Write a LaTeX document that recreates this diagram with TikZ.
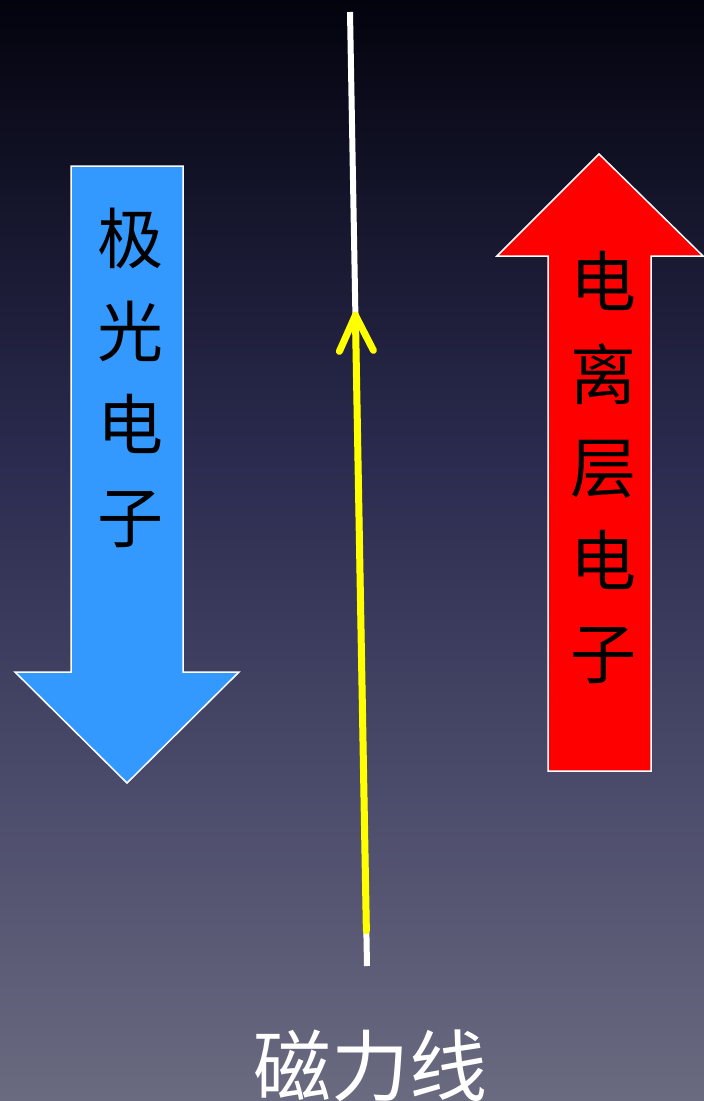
\documentclass[tikz,border=0pt]{standalone}
\usepackage{fontspec}
\newfontfamily\cjk{Noto Sans CJK SC}
\usetikzlibrary{calc}
\definecolor{bgtop}{HTML}{03030E}
\definecolor{bgmid}{HTML}{2A2A4E}
\definecolor{bglow}{HTML}{4C4C6C}
\definecolor{bgbot}{HTML}{6A6A80}
\definecolor{bluearrow}{HTML}{3399FF}
\definecolor{redarrow}{HTML}{FF0000}
\definecolor{fieldyellow}{HTML}{FFFF00}
\tikzset{
  bigarrow/.style={draw=white, line width=1.5pt, line join=miter},
  vlabel/.style={font=\cjk\fontsize{66}{93}\selectfont, text=black, align=center, inner sep=0pt},
  fieldline/.style={draw=white, line width=6pt},
  yellowline/.style={draw=fieldyellow, line width=7pt, line cap=round, line join=round},
}
\begin{document}
\begin{tikzpicture}[x=1pt,y=-1pt]
\useasboundingbox (0,0) rectangle (704,1101);
\shade[top color=bgtop, bottom color=bgmid] (0,-0.5) rectangle (704,450.5);
\shade[top color=bgmid, bottom color=bglow] (0,450) rectangle (704,800.5);
\shade[top color=bglow, bottom color=bgbot] (0,800) rectangle (704,1101.5);
% blue down arrow
\path[bigarrow, fill=bluearrow] (71,166) -- (183,166) -- (183,672) -- (239,672) -- (127,783) -- (15,672) -- (71,672) -- cycle;
% red up arrow
\path[bigarrow, fill=redarrow] (548,771) -- (651,771) -- (651,256) -- (703,256) -- (599,154) -- (497,256) -- (548,256) -- cycle;
% labels
\node[vlabel] (aurora) at (130,378) {极\\光\\电\\子};
\node[vlabel] (iono) at (603,467) {电\\离\\层\\电\\子};
% field line
\coordinate (ftop) at (350,12);
\coordinate (fbot) at (367,966);
\draw[fieldline] (ftop) -- (fbot);
\coordinate (ybot) at ($(ftop)!0.963!(fbot)$);
\coordinate (ytip) at ($(ftop)!0.318!(fbot)$);
\draw[yellowline] (ybot) -- (ytip);
\coordinate (yl) at ($(ytip)+(-16,36)$);
\coordinate (yr) at ($(ytip)+(18,35)$);
\draw[yellowline] (yl) -- (ytip) -- (yr);
\node[font=\cjk\fontsize{78}{78}\selectfont, text=white, inner sep=0pt] (field) at (370,1066) {磁力线};
\end{tikzpicture}
\end{document}
